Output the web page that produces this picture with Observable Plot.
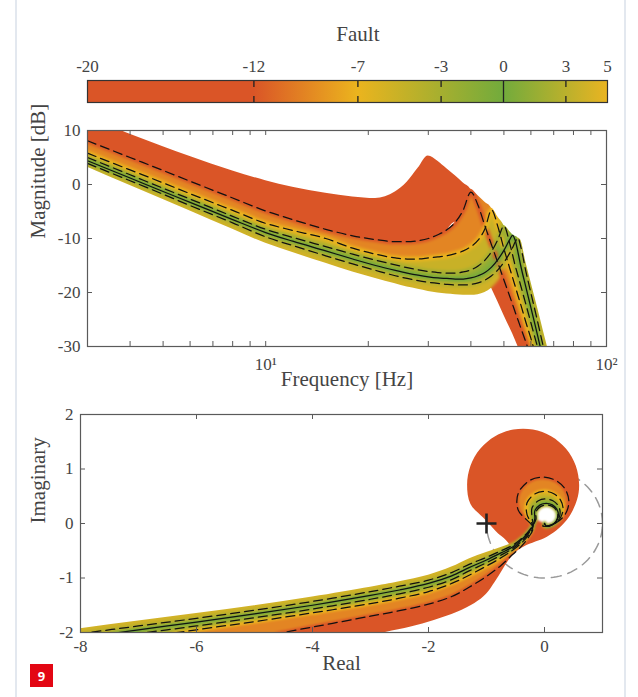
<!DOCTYPE html>
<html><head><meta charset="utf-8">
<script src="https://cdn.jsdelivr.net/npm/d3@7"></script>
<script src="https://cdn.jsdelivr.net/npm/@observablehq/plot@0.6"></script>
<style>
html,body{margin:0;padding:0;background:#fff;}
#page{position:relative;width:638px;height:697px;overflow:hidden;background:#fff;}
.edge{position:absolute;top:0;width:2px;height:697px;background:#e3e8ef;}
#badge{position:absolute;left:30px;top:664px;width:23px;height:23px;background:#e30613;color:#fff;font:bold 13px "Open Sans",sans-serif;display:flex;align-items:center;justify-content:center;}
.chart{position:absolute;left:0;}
</style></head>
<body>
<div id="page">
  <div class="edge" style="left:15px"></div>
  <div class="edge" style="left:624px"></div>
  <div class="chart" id="cbar" style="top:20px"></div>
  <div class="chart" id="bode" style="top:120px"></div>
  <div class="chart" id="nyq" style="top:400px"></div>
  <div id="badge">9</div>
</div>
<script>
// ---------- colour map (Fault) ----------
const faultKeys   = [-20, -12, -7, -3, 0, 3, 5];
const faultTicks  = [-20, -12, -7, -3, 0, 3, 5];
const cmapFault   = [-20, -12, -7, 0, 5];
const cmapColors  = ["#da5527", "#da5527", "#ebb41e", "#72ab3c", "#e9b422"];
const dashedFaults = [-12, -7, -3, 3];

// ---------- Bode magnitude (dB) ----------
const freqHz = [3,4,5,6,8,10,12,15,18,21,24,26,28,30,32,34,36,38,40,42,44,46,48,50,52,53,54,55,56,58,60,62,64,66,68,70];
const magM20 = [12.8,9.3,7.0,5.2,2.5,0.7,-0.5,-1.6,-2.3,-2.6,-1.4,0.4,3.0,5.3,2.8,-1.1,-4.5,-7.8,-10.8,-13.8,-16.5,-19.2,-21.7,-24.2,-26.5,-27.6,-28.8,-30.0,-31.0,-33.0,-35.0,-37.0,-39.0,-41.0,-43.0,-45.0];
const magM12 = [8.1,5.0,2.6,0.6,-2.5,-4.9,-6.5,-8.3,-9.5,-10.2,-10.6,-10.6,-10.4,-10.0,-9.3,-8.4,-7.0,-4.7,-1.4,-3.9,-7.7,-11.2,-14.5,-17.7,-20.7,-22.2,-23.7,-25.1,-26.5,-29.2,-31.9,-34.5,-37,-39,-41,-43];
const magM7  = [5.8,2.7,0.3,-1.7,-4.8,-7.2,-8.5,-10.0,-11.8,-12.9,-13.6,-13.8,-13.8,-13.6,-13.4,-13.2,-12.8,-12.3,-11.5,-10.3,-8.2,-4.7,-7.8,-11.9,-15.5,-17.2,-18.9,-20.6,-22.2,-25.5,-28.5,-31.5,-34,-36,-38,-40];
const magM3  = [5.0,1.8,-0.7,-2.7,-5.9,-8.3,-9.8,-11.5,-12.9,-14.0,-14.9,-15.4,-15.8,-16.1,-16.3,-16.4,-16.4,-16.2,-15.8,-15.1,-14.0,-12.4,-10.2,-7.7,-10.9,-13.0,-15.1,-16.9,-18.7,-22.2,-25.6,-28.9,-32,-34,-36,-38];
const mag0   = [4.4,1.2,-1.3,-3.3,-6.5,-8.9,-10.5,-12.3,-13.8,-15.0,-15.9,-16.4,-16.8,-17.1,-17.3,-17.4,-17.5,-17.5,-17.3,-16.9,-16.3,-15.3,-13.9,-12.2,-10.2,-9.4,-10.4,-12.6,-15.0,-19.0,-22.8,-26.5,-30.2,-33,-35,-37];
const magP3  = [3.9,0.7,-1.8,-3.9,-7.1,-9.7,-11.3,-13.2,-14.7,-15.9,-16.9,-17.4,-17.8,-18.1,-18.3,-18.5,-18.6,-18.6,-18.5,-18.2,-17.7,-16.9,-15.8,-14.4,-12.7,-11.7,-10.6,-9.9,-11.5,-16.1,-20.1,-23.9,-27.7,-31.3,-34,-36];
const magP5  = [3.2,-0.2,-2.8,-4.9,-8.3,-10.9,-12.6,-14.6,-16.2,-17.4,-18.4,-19.0,-19.4,-19.8,-20.1,-20.3,-20.4,-20.5,-20.5,-20.4,-20.0,-19.2,-18.0,-16.4,-14.5,-13.4,-12.2,-11.0,-10.3,-14.4,-18.0,-21.5,-24.9,-28.3,-31.4,-34];
// outer boundary formed by the resonance peaks
const envelopeDb = [null,null,null,null,null,null,null,null,null,null,null,null,null,5.3,4.3,2.9,1.6,0.3,-0.9,-2.1,-3.3,-4.4,-6.0,-7.6,-8.7,-9.3,-9.6,-9.9,-10.3,null,null,null,null,null,null,null];
const peakHz = [30, 40, 46, 50, 53, 55, 56];
const bodeYTicks = [-30, -20, -10, 0, 10];
const bodeMinorX = [4,5,6,7,8,9,10,20,30,40,50,60,70,80,90];
const bodeXLabels = [10, 100];

// ---------- Nyquist (Re, Im) ----------
const nyqReM12 = [-9,-8,-7,-6,-5,-4,-3,-2.5,-2,-1.6,-1.3,-1,-0.75,-0.55,-0.4,-0.28,-0.2,-0.453,-0.453,-0.255,-0.03,0.195,0.36,0.42,0.36,0.195,-0.03,0];
const nyqImM12 = [-2.45,-2.3,-2.2,-2.14,-2.08,-1.9,-1.7,-1.6,-1.48,-1.34,-1.17,-0.97,-0.77,-0.57,-0.42,-0.26,-0.08,0.246,0.554,0.79,0.85,0.79,0.625,0.4,0.175,0.01,-0.05,0];
const nyqReM7  = [-9,-8,-7,-6,-5,-4,-3,-2.5,-2,-1.6,-1.3,-1,-0.75,-0.55,-0.4,-0.28,-0.2,-0.301,-0.301,-0.16,0,0.16,0.277,0.32,0.277,0.16,0,0];
const nyqImM7  = [-2.4,-2.25,-2.1,-1.95,-1.8,-1.64,-1.47,-1.37,-1.25,-1.1,-0.95,-0.78,-0.63,-0.49,-0.36,-0.22,-0.06,0.161,0.379,0.547,0.59,0.547,0.43,0.27,0.11,-0.007,-0.05,0];
const nyqReM3  = [-9,-8,-7,-6,-5,-4,-3,-2.5,-2,-1.6,-1.3,-1,-0.75,-0.55,-0.4,-0.28,-0.2,-0.215,-0.215,-0.105,0.02,0.145,0.237,0.27,0.237,0.145,0.02,0];
const nyqImM3  = [-2.31,-2.17,-2.02,-1.88,-1.73,-1.57,-1.39,-1.29,-1.17,-1.03,-0.87,-0.72,-0.58,-0.46,-0.33,-0.19,-0.05,0.115,0.286,0.417,0.45,0.417,0.325,0.2,0.075,-0.017,-0.05,0];
const nyqRe0   = [-9,-8,-7,-6,-5,-4,-3,-2.5,-2,-1.6,-1.3,-1,-0.75,-0.55,-0.4,-0.28,-0.2,-0.167,-0.167,-0.075,0.03,0.135,0.212,0.24,0.212,0.135,0.03,0];
const nyqIm0   = [-2.24,-2.1,-1.95,-1.81,-1.66,-1.5,-1.32,-1.22,-1.1,-0.96,-0.81,-0.67,-0.54,-0.43,-0.3,-0.17,-0.04,0.088,0.232,0.342,0.37,0.342,0.265,0.16,0.055,-0.022,-0.05,0];
const nyqReP3  = [-9,-8,-7,-6,-5,-4,-3,-2.5,-2,-1.6,-1.3,-1,-0.75,-0.55,-0.4,-0.28,-0.2,-0.148,-0.148,-0.063,0.035,0.133,0.204,0.23,0.204,0.133,0.035,0];
const nyqImP3  = [-2.16,-2.02,-1.88,-1.74,-1.59,-1.43,-1.25,-1.15,-1.04,-0.9,-0.75,-0.62,-0.5,-0.4,-0.28,-0.15,-0.03,0.078,0.212,0.314,0.34,0.314,0.243,0.145,0.048,-0.024,-0.05,0];
const nyqReP5  = [-9,-8,-7,-6,-5,-4,-3,-2.5,-2,-1.6,-1.3,-1,-0.75,-0.55,-0.4,-0.28,-0.2,-0.129,-0.129,-0.05,0.04,0.13,0.196,0.22,0.196,0.13,0.04,0];
const nyqImP5  = [-2.07,-1.93,-1.79,-1.65,-1.51,-1.35,-1.17,-1.07,-0.95,-0.8,-0.65,-0.53,-0.44,-0.36,-0.25,-0.13,-0.02,0.068,0.192,0.286,0.31,0.286,0.22,0.13,0.04,-0.026,-0.05,0];
// outline of the region swept by faults -20 … -12
const redRe = [-3.3,-2.74,-2.3,-1.9,-1.5,-1.2,-1.0,-0.85,-0.72,-0.62,-0.5,-0.35,-0.15,0.05,0.26,0.43,0.57,0.606,0.548,0.38,0.123,-0.192,-0.528,-0.843,-1.1,-1.268,-1.326,-1.268,-1.05,-0.83,-0.6,-0.75,-1.0,-1.3,-1.6,-2.0,-2.5,-3.0,-4.0,-5.0,-6.0,-7.0,-8.0,-9.0,-9.0,-3.3];
const redIm = [-2.14,-2.0,-1.9,-1.78,-1.63,-1.47,-1.3,-1.08,-0.86,-0.69,-0.54,-0.43,-0.34,-0.25,-0.09,0.11,0.43,0.7,1.052,1.362,1.592,1.714,1.714,1.592,1.362,1.052,0.7,0.348,0.1,-0.15,-0.41,-0.56,-0.72,-0.87,-1.03,-1.17,-1.29,-1.39,-1.57,-1.73,-1.88,-2.02,-2.17,-2.31,-2.6,-2.6];
const criticalPoint = [{re: -1, im: 0}];
const nyqXTicks = [-8, -6, -4, -2, 0];
const nyqYTicks = [-2, -1, 0, 1, 2];

// ---------- helpers ----------
const FONT = '"Liberation Serif", "DejaVu Serif", serif';
const TXT = "#444444";
const AX = "#5a5a5a";
const TICK_FS = 17, LABEL_FS = 21;
const color = d3.scaleLinear().domain(cmapFault).range(cmapColors).interpolate(d3.interpolateRgb);
const fmt = d => String(d);
const glowOrder = [-12, -7, -3, 3, 0];

function soften(svg, rect, sd) {
  const ns = "http://www.w3.org/2000/svg";
  const groups = Array.from(svg.querySelectorAll('g[aria-description="band"], g[aria-description="glow"]'));
  const bandGroups = groups.filter(g => g.getAttribute("aria-description") === "band");
  if (!bandGroups.length) return;
  soften.n = (soften.n || 0) + 1;
  const id = "soft" + soften.n;
  const defs = document.createElementNS(ns, "defs");
  const filter = document.createElementNS(ns, "filter");
  filter.setAttribute("id", id + "f");
  filter.setAttribute("x", "-10%"); filter.setAttribute("y", "-10%");
  filter.setAttribute("width", "120%"); filter.setAttribute("height", "120%");
  filter.setAttribute("color-interpolation-filters", "sRGB");
  const blur = document.createElementNS(ns, "feGaussianBlur");
  blur.setAttribute("stdDeviation", sd);
  const ct = document.createElementNS(ns, "feComponentTransfer");
  const fa = document.createElementNS(ns, "feFuncA");
  fa.setAttribute("type", "linear"); fa.setAttribute("slope", "40"); fa.setAttribute("intercept", "0");
  ct.appendChild(fa); filter.appendChild(blur); filter.appendChild(ct);
  const cp = document.createElementNS(ns, "clipPath");
  cp.setAttribute("id", id + "c");
  bandGroups.forEach(g => g.querySelectorAll("path").forEach(p => {
    const c = document.createElementNS(ns, "path");
    c.setAttribute("d", p.getAttribute("d"));
    const t = g.getAttribute("transform");
    if (t) c.setAttribute("transform", t);
    cp.appendChild(c);
  }));
  const cr = document.createElementNS(ns, "clipPath");
  cr.setAttribute("id", id + "r");
  const r = document.createElementNS(ns, "rect");
  r.setAttribute("x", rect[0]); r.setAttribute("y", rect[1]);
  r.setAttribute("width", rect[2]); r.setAttribute("height", rect[3]);
  cr.appendChild(r);
  defs.appendChild(filter); defs.appendChild(cp); defs.appendChild(cr);
  svg.insertBefore(defs, svg.firstChild);
  const outer = document.createElementNS(ns, "g");
  outer.setAttribute("clip-path", `url(#${id}r)`);
  const inner = document.createElementNS(ns, "g");
  inner.setAttribute("clip-path", `url(#${id}c)`);
  inner.setAttribute("filter", `url(#${id}f)`);
  groups[0].parentNode.insertBefore(outer, groups[0]);
  outer.appendChild(inner);
  groups.forEach(g => inner.appendChild(g));
}

// ---------- colour bar ----------
{
  const W = 638, H = 90, mL = 87, mR = 31, mT = 60, mB = 8;
  const svg = Plot.plot({
    width: W, height: H, marginLeft: mL, marginRight: mR, marginTop: mT, marginBottom: mB,
    x: {domain: [-20, 5], axis: null}, y: {domain: [0, 1], axis: null},
    style: {fontFamily: FONT, background: "transparent", overflow: "visible"},
    marks: [
      Plot.rect([{a: -20, b: 5}], {x1: "a", x2: "b", y1: () => 0, y2: () => 1, fill: "#da5527", ariaDescription: "cbar"}),
      Plot.ruleX(dashedFaults, {x: d => d, stroke: "#222", strokeWidth: 1.3, strokeDasharray: "7,9"}),
      Plot.ruleX([0], {x: d => d, stroke: "#222", strokeWidth: 1.3}),
      Plot.frame({stroke: "#333", strokeWidth: 1.2}),
      Plot.text(faultTicks, {x: d => d, y: () => 1, dy: -14, text: fmt, fontSize: TICK_FS, fill: TXT}),
      Plot.text(["Fault"], {x: () => -7, y: () => 1, dy: -46, text: d => d, fontSize: 21, fill: TXT})
    ]
  });
  const ns = "http://www.w3.org/2000/svg";
  const defs = document.createElementNS(ns, "defs");
  const lg = document.createElementNS(ns, "linearGradient");
  lg.setAttribute("id", "faultGrad");
  lg.setAttribute("x1", "0"); lg.setAttribute("x2", "1"); lg.setAttribute("y1", "0"); lg.setAttribute("y2", "0");
  cmapFault.forEach((f, i) => {
    const s = document.createElementNS(ns, "stop");
    s.setAttribute("offset", ((f + 20) / 25).toFixed(4));
    s.setAttribute("stop-color", cmapColors[i]);
    lg.appendChild(s);
  });
  defs.appendChild(lg);
  svg.insertBefore(defs, svg.firstChild);
  svg.querySelectorAll('g[aria-description="cbar"]').forEach(g => {
    g.setAttribute("fill", "url(#faultGrad)");
    g.querySelectorAll("rect").forEach(r => r.setAttribute("fill", "url(#faultGrad)"));
  });
  document.getElementById("cbar").appendChild(svg);
}

// ---------- Bode ----------
{
  const W = 638, H = 280, mL = 87, mR = 32, mT = 10, mB = 54;
  const curves = [magM20, magM12, magM7, magM3, mag0, magP3, magP5];
  const byFault = new Map(faultKeys.map((f, k) => [f, curves[k]]));
  const bands = [];
  for (let k = 0; k < curves.length - 1; k++) {
    const A = curves[k], B = curves[k + 1];
    const rows = freqHz.map((f, i) => {
      let hi = Math.max(A[i], B[i]);
      const lo = Math.min(A[i], B[i]);
      if (f >= peakHz[k] && f <= peakHz[k + 1] && envelopeDb[i] != null) hi = Math.max(hi, envelopeDb[i]);
      return {f, lo, hi};
    });
    bands.push(Plot.areaY(rows, {x: "f", y1: "lo", y2: "hi", fill: color((faultKeys[k] + faultKeys[k + 1]) / 2),
      curve: "monotone-x", clip: true, ariaDescription: "band"}));
  }
  const glows = glowOrder.map(fk => Plot.line(freqHz.map((f, i) => ({f, v: byFault.get(fk)[i]})),
    {x: "f", y: "v", stroke: color(fk), strokeWidth: fk === 0 ? 4 : 5, curve: "monotone-x", clip: true, ariaDescription: "glow"}));
  const lines = [];
  faultKeys.forEach((fk, k) => {
    if (fk === -20 || fk === 5) return;
    const rows = freqHz.map((f, i) => ({f, v: curves[k][i]}));
    lines.push(Plot.line(rows, {x: "f", y: "v", stroke: "#111", strokeWidth: 1.25,
      strokeDasharray: fk === 0 ? null : "9,5", curve: "monotone-x", clip: true}));
  });
  const fw = W - mL - mR, fh = H - mT - mB;
  const svg = Plot.plot({
    width: W, height: H, marginLeft: mL, marginRight: mR, marginTop: mT, marginBottom: mB,
    x: {type: "log", domain: [3, 100], axis: null},
    y: {domain: [-30, 10], axis: null},
    style: {fontFamily: FONT, background: "transparent", overflow: "visible"},
    marks: [
      ...bands,
      ...glows,
      ...lines,
      Plot.tickX(bodeMinorX, {x: d => d, insetTop: fh - 5, stroke: AX}),
      Plot.tickX(bodeMinorX, {x: d => d, insetBottom: fh - 5, stroke: AX}),
      Plot.tickY(bodeYTicks, {y: d => d, insetRight: fw - 5, stroke: AX}),
      Plot.tickY(bodeYTicks, {y: d => d, insetLeft: fw - 5, stroke: AX}),
      Plot.frame({stroke: AX, strokeWidth: 1.2}),
      Plot.text(bodeYTicks, {x: () => 3, y: d => d, text: fmt, textAnchor: "end", dx: -7, fontSize: TICK_FS, fill: TXT}),
      Plot.text(bodeXLabels, {x: d => d, y: () => -30, text: d => d === 10 ? "10\u00B9" : "10\u00B2", dy: 18, fontSize: TICK_FS, fill: TXT}),
      Plot.text(["Frequency [Hz]"], {frameAnchor: "bottom", dy: 39, text: d => d, fontSize: LABEL_FS, fill: TXT}),
      Plot.text(["Magnitude [dB]"], {frameAnchor: "left", dx: -49, rotate: -90, text: d => d, fontSize: LABEL_FS, fill: TXT})
    ]
  });
  soften(svg, [mL, mT, fw, fh], 1.4);
  document.getElementById("bode").appendChild(svg);
}

// ---------- Nyquist ----------
{
  const W = 638, H = 297, mL = 80, mR = 36, mT = 14, mB = 65;
  const fw = W - mL - mR, fh = H - mT - mB;
  const nyq = [
    [nyqReM12, nyqImM12], [nyqReM7, nyqImM7], [nyqReM3, nyqImM3],
    [nyqRe0, nyqIm0], [nyqReP3, nyqImP3], [nyqReP5, nyqImP5]
  ];
  const nyqFaults = [-12, -7, -3, 0, 3, 5];
  const byFault = new Map(nyqFaults.map((f, k) => [f, nyq[k]]));
  const redPts = redRe.map((x, i) => ({x, y: redIm[i]}));
  const holePts = nyqReP5.slice(17).map((x, i) => ({x, y: nyqImP5[17 + i]}));
  const bands = [];
  for (let k = 0; k < nyq.length - 1; k++) {
    const A = nyq[k], B = nyq[k + 1];
    const rows = A[0].map((_, i) => ({ax: A[0][i], ay: A[1][i], bx: B[0][i], by: B[1][i]}));
    bands.push(Plot.area(rows, {x1: "ax", y1: "ay", x2: "bx", y2: "by",
      fill: color((nyqFaults[k] + nyqFaults[k + 1]) / 2), curve: "catmull-rom", clip: true, ariaDescription: "band"}));
  }
  const glows = glowOrder.map(fk => {
    const c = byFault.get(fk);
    return Plot.line(c[0].map((x, i) => ({x, y: c[1][i]})), {x: "x", y: "y", stroke: color(fk),
      strokeWidth: fk === 0 ? 3 : 4, curve: "catmull-rom", clip: true, ariaDescription: "glow"});
  });
  const lines = [];
  nyq.forEach((c, k) => {
    if (nyqFaults[k] === 5) return;
    const rows = c[0].map((x, i) => ({x, y: c[1][i]}));
    lines.push(Plot.line(rows, {x: "x", y: "y", stroke: "#111", strokeWidth: 1.25,
      strokeDasharray: nyqFaults[k] === 0 ? null : "9,5", curve: "catmull-rom", clip: true}));
  });
  const unitCircle = d3.range(0, 361, 3).map(a => ({x: Math.cos(a * Math.PI / 180), y: Math.sin(a * Math.PI / 180)}));
  const svg = Plot.plot({
    width: W, height: H, marginLeft: mL, marginRight: mR, marginTop: mT, marginBottom: mB,
    x: {domain: [-8, 1], axis: null},
    y: {domain: [-2, 2], axis: null},
    style: {fontFamily: FONT, background: "transparent", overflow: "visible"},
    marks: [
      Plot.line(unitCircle, {x: "x", y: "y", stroke: "#9a9a9a", strokeWidth: 1.5, strokeDasharray: "10,7", clip: true}),
      Plot.line(redPts, {x: "x", y: "y", fill: "#da5527", stroke: "none", curve: "catmull-rom", clip: true, ariaDescription: "band"}),
      Plot.line(holePts, {x: "x", y: "y", fill: "#ffffff", stroke: "none", curve: "catmull-rom", clip: true, ariaDescription: "band"}),
      ...bands,
      ...glows,
      ...lines,
      Plot.dot(criticalPoint, {x: "re", y: "im", symbol: "plus", r: 6.5, stroke: "#222", strokeWidth: 2.6}),
      Plot.tickX(nyqXTicks, {x: d => d, insetTop: fh - 5, stroke: AX}),
      Plot.tickX(nyqXTicks, {x: d => d, insetBottom: fh - 5, stroke: AX}),
      Plot.tickY(nyqYTicks, {y: d => d, insetRight: fw - 5, stroke: AX}),
      Plot.tickY(nyqYTicks, {y: d => d, insetLeft: fw - 5, stroke: AX}),
      Plot.frame({stroke: AX, strokeWidth: 1.2}),
      Plot.text(nyqYTicks, {x: () => -8, y: d => d, text: fmt, textAnchor: "end", dx: -7, fontSize: TICK_FS, fill: TXT}),
      Plot.text(nyqXTicks, {x: d => d, y: () => -2, text: fmt, dy: 14, fontSize: TICK_FS, fill: TXT}),
      Plot.text(["Real"], {frameAnchor: "bottom", dy: 37, text: d => d, fontSize: LABEL_FS, fill: TXT}),
      Plot.text(["Imaginary"], {frameAnchor: "left", dx: -42, rotate: -90, text: d => d, fontSize: LABEL_FS, fill: TXT})
    ]
  });
  soften(svg, [mL, mT, fw, fh], 1.1);
  document.getElementById("nyq").appendChild(svg);
}
</script>
</body></html>
